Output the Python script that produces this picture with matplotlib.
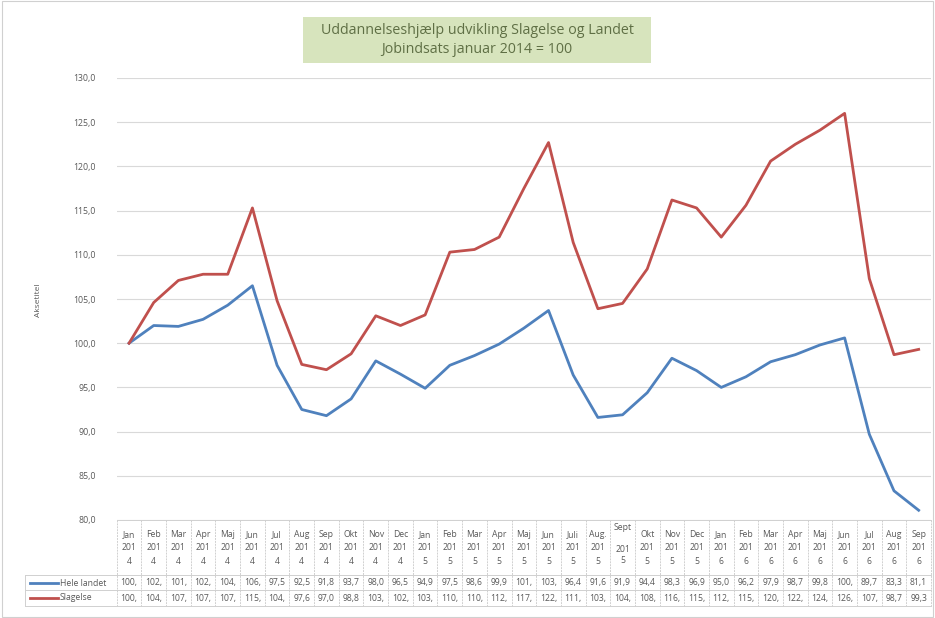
import matplotlib
matplotlib.use("Agg")
import matplotlib.pyplot as plt
import matplotlib.transforms as mtransforms
from matplotlib.patches import Rectangle
import numpy as np

plt.rcParams['font.family'] = ['Open Sans', 'DejaVu Sans']

# data
labels = ['Jan 2014', 'Feb 2014', 'Mar 2014', 'Apr 2014', 'Maj 2014', 'Jun 2014',
          'Jul 2014', 'Aug 2014', 'Sep 2014', 'Okt 2014', 'Nov 2014', 'Dec 2014',
          'Jan 2015', 'Feb 2015', 'Mar 2015', 'Apr 2015', 'Maj 2015', 'Jun 2015',
          'Juli 2015', 'Aug. 2015', 'Sept 2015', 'Okt 2015', 'Nov 2015', 'Dec 2015',
          'Jan 2016', 'Feb 2016', 'Mar 2016', 'Apr 2016', 'Maj 2016', 'Jun 2016',
          'Jul 2016', 'Aug 2016', 'Sep 2016']
hele_landet = [100.0, 102.0, 101.9, 102.7, 104.3, 106.5, 97.5, 92.5, 91.8, 93.7, 98.0,
               96.5, 94.9, 97.5, 98.6, 99.9, 101.7, 103.7, 96.4, 91.6, 91.9, 94.4, 98.3,
               96.9, 95.0, 96.2, 97.9, 98.7, 99.8, 100.6, 89.7, 83.3, 81.1]
slagelse = [100.0, 104.6, 107.1, 107.8, 107.8, 115.3, 104.8, 97.6, 97.0, 98.8, 103.1,
            102.0, 103.2, 110.3, 110.6, 112.0, 117.5, 122.7, 111.4, 103.9, 104.5, 108.4,
            116.2, 115.3, 112.0, 115.6, 120.6, 122.5, 124.1, 126.0, 107.3, 98.7, 99.3]
series = [('Hele landet', hele_landet, '#4f81bd'), ('Slagelse', slagelse, '#c0504d')]

W, H = 935, 618
grey = '#595959'
gridc = '#d9d9d9'

fig = plt.figure(figsize=(W / 100, H / 100), dpi=100)
fig.patches.append(Rectangle((0.002, 0.002), 0.996, 0.996, transform=fig.transFigure,
                             fill=False, edgecolor='#d0d0d0', lw=0.8))

def fy(py):
    return 1 - py / H

ax = fig.add_axes([116.7 / W, fy(520), (931 - 116.7) / W, (520 - 78) / H])
x = np.arange(len(labels))
for name, vals, col in series:
    ax.plot(x, vals, color=col, lw=2.0, solid_joinstyle='round')

ax.set_xlim(-0.5, len(labels) - 0.5)
ax.set_ylim(80, 130)
ax.set_yticks(np.arange(80, 131, 5))
ax.set_yticklabels([f"{v:.1f}".replace('.', ',') for v in np.arange(80, 131, 5)],
                   fontsize=6.3, color=grey)
ax.tick_params(axis='y', length=0, pad=15)
ax.set_xticks([])
ax.grid(axis='y', color=gridc, lw=0.8)
ax.set_axisbelow(True)
for s in ax.spines.values():
    s.set_visible(False)

fig.text(38 / W, fy(300), 'Aksetitel', rotation=90, fontsize=6, color=grey,
         ha='center', va='center')

# title box
fig.patches.append(Rectangle((303 / W, fy(63)), (651 - 303) / W, 46 / H,
                             transform=fig.transFigure, facecolor='#d7e4bd',
                             edgecolor='none'))
fig.text(477 / W, fy(40), 'Uddannelseshjælp udvikling Slagelse og Landet\nJobindsats januar 2014 = 100',
         ha='center', va='center', fontsize=10.3, color='#5f6f45', linespacing=1.3)

# data table
tr = mtransforms.blended_transform_factory(ax.transData, fig.transFigure)
tcol = '#d0d0d0'
for i in range(len(labels) + 1):
    ax.plot([i - 0.5, i - 0.5], [fy(520), fy(606)], transform=tr, color=tcol,
            lw=0.7, clip_on=False, ls=(0, (2, 1)))
for py in [520, 575, 590, 606]:
    ax.plot([-0.5, len(labels) - 0.5], [fy(py), fy(py)], transform=tr, color=tcol,
            lw=0.7, clip_on=False)
for py in [575, 590, 606]:
    fig.lines.append(plt.Line2D([25 / W, 116.7 / W], [fy(py), fy(py)], color=tcol,
                                lw=0.7, transform=fig.transFigure))
fig.lines.append(plt.Line2D([25 / W, 25 / W], [fy(575), fy(606)], color=tcol,
                            lw=0.7, transform=fig.transFigure))

for i, lab in enumerate(labels):
    m, yr = lab.split(' ')
    if m == 'Sept':
        txt = m + '\n\n' + yr[:3] + '\n' + yr[3:]
        ax.text(i, fy(544), txt, transform=tr, ha='center', va='center',
                fontsize=6.2, color=grey, linespacing=1.3, clip_on=False)
    else:
        txt = m + '\n' + yr[:3] + '\n' + yr[3:]
        ax.text(i, fy(548), txt, transform=tr, ha='center', va='center',
                fontsize=6.2, color=grey, linespacing=1.6, clip_on=False)

for r, (name, vals, col) in enumerate(series):
    py = 583 + r * 15
    for i, v in enumerate(vals):
        ax.text(i, fy(py), f"{v:.1f}".replace('.', ',')[:4], transform=tr,
                ha='center', va='center', fontsize=6.2, color=grey, clip_on=False)
    fig.lines.append(plt.Line2D([30 / W, 58 / W], [fy(py), fy(py)], color=col, lw=2,
                                transform=fig.transFigure))
    fig.text(60 / W, fy(py), name, fontsize=6.2, color=grey, ha='left', va='center')

fig.savefig('out.png', dpi=100)
